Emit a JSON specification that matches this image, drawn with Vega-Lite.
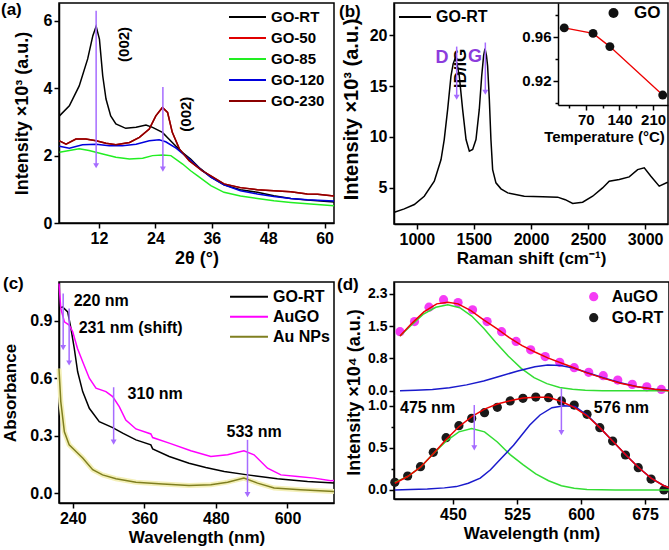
{
"$schema": "https://vega.github.io/schema/vega-lite/v6.json",
"padding": {"left": 0, "top": 0, "right": 0, "bottom": 0},
"background": "white",
"bounds": "flush",
"columns": 2,
"spacing": {"row": 58, "column": 60},
"resolve": {"scale": {"color": "independent", "stroke": "independent", "shape": "independent"}, "legend": {"color": "independent", "stroke": "independent", "shape": "independent"}},
"config": {
  "font": "Liberation Sans",
  "view": {"stroke": "#000", "strokeWidth": 1.5},
  "axis": {"grid": false, "domainColor": "#000", "domainWidth": 1.5, "tickColor": "#000", "tickWidth": 1.5, "tickSize": 5, "labelFont": "Liberation Sans", "labelFontSize": 16, "labelFontWeight": "bold", "labelColor": "#000", "labelPadding": 2, "titleFont": "Liberation Sans", "titleFontSize": 17, "titleFontWeight": "bold", "titleColor": "#000", "labelOverlap": false, "labelFlush": false, "titlePadding": 3},
  "legend": {"padding": 0, "labelFont": "Liberation Sans", "labelFontSize": 15, "labelFontWeight": "bold", "labelColor": "#000", "labelOffset": 5, "rowPadding": 5, "symbolStrokeWidth": 2},
  "text": {"font": "Liberation Sans", "fontWeight": "bold", "color": "#000"}
},
"concat": [
{
  "width": 275, "height": 220,
  "title": {"text": "(a)", "anchor": "start", "frame": "group", "orient": "top", "offset": -16, "dx": -58, "fontSize": 17, "fontWeight": "bold", "color": "#000", "font": "Liberation Sans"},
  "layer": [
    {"data": {"name": "a"}, "mark": {"type": "line", "strokeWidth": 1.5},
     "encoding": {
       "x": {"field": "x", "type": "quantitative", "scale": {"domain": [3.5, 62], "nice": false, "zero": false}, "axis": {"values": [12, 24, 36, 48, 60], "title": "2θ (°)", "titleFontSize": 18, "titlePadding": 3}},
       "y": {"field": "y", "type": "quantitative", "scale": {"domain": [0, 6.53], "nice": false, "zero": false}, "axis": {"values": [0, 1, 2, 3, 4, 5, 6], "labelExpr": "datum.value % 2 === 0 ? datum.label : ''", "tickSize": {"condition": {"test": "datum.value % 2 === 0", "value": 5}, "value": 3}, "title": "Intensity ×10³ (a.u.)", "titleFontSize": 18, "titlePadding": 12}},
       "color": {"field": "s", "type": "nominal", "scale": {"domain": ["GO-RT", "GO-50", "GO-85", "GO-120", "GO-230"], "range": ["#000000", "#e00000", "#22ee22", "#0000dd", "#8b0000"]}, "legend": {"title": null, "orient": "none", "legendX": 181, "legendY": 6.5, "symbolType": "M-3,0H3", "symbolSize": 152, "labelOffset": 16, "rowPadding": 5}}
     }},
    {"data": {"name": "a_arrows"}, "mark": {"type": "rule", "color": "#a66cff", "strokeWidth": 1.5},
     "encoding": {
       "x": {"field": "x", "type": "quantitative", "scale": {"domain": [3.5, 62], "nice": false, "zero": false}},
       "y": {"field": "y1", "type": "quantitative", "scale": {"domain": [0, 6.53], "nice": false, "zero": false}},
       "y2": {"field": "y2"}
     }},
    {"data": {"name": "a_arrows"}, "mark": {"type": "point", "shape": "triangle-down", "filled": true, "size": 35, "color": "#a66cff", "opacity": 1},
     "encoding": {
       "x": {"field": "x", "type": "quantitative", "scale": {"domain": [3.5, 62], "nice": false, "zero": false}},
       "y": {"field": "y2", "type": "quantitative", "scale": {"domain": [0, 6.53], "nice": false, "zero": false}}
     }},
    {"data": {"name": "a_text"}, "mark": {"type": "text", "angle": 270, "fontSize": 15, "fontWeight": "bold", "align": "center", "baseline": "middle"},
     "encoding": {
       "x": {"field": "x", "type": "quantitative", "scale": {"domain": [3.5, 62], "nice": false, "zero": false}},
       "y": {"field": "y", "type": "quantitative", "scale": {"domain": [0, 6.53], "nice": false, "zero": false}},
       "text": {"field": "t"}
     }}
  ]
},
{
  "width": 274, "height": 221,
  "title": {"text": "(b)", "anchor": "start", "frame": "group", "orient": "top", "offset": -18, "dx": -55, "fontSize": 17, "fontWeight": "bold", "color": "#000", "font": "Liberation Sans"},
  "layer": [
    {"layer": [
      {"data": {"name": "b"}, "mark": {"type": "line", "strokeWidth": 1.5},
       "encoding": {
         "x": {"field": "x", "type": "quantitative", "scale": {"domain": [800, 3200], "nice": false, "zero": false}, "axis": {"orient": "bottom", "values": [1000, 1250, 1500, 1750, 2000, 2250, 2500, 2750, 3000], "format": "d", "labelExpr": "datum.value % 500 === 0 ? datum.label : ''", "tickSize": {"condition": {"test": "datum.value % 500 === 0", "value": 5}, "value": 3}, "title": "Raman shift (cm⁻¹)", "titlePadding": 3}},
         "y": {"field": "y", "type": "quantitative", "scale": {"domain": [1.4, 23.2], "nice": false, "zero": false}, "axis": {"orient": "left", "values": [5, 10, 15, 20], "title": "Intensity ×10³ (a.u.)", "titleFontSize": 20, "titlePadding": 8, "titleY": 106}},
         "color": {"field": "s", "type": "nominal", "scale": {"domain": ["GO-RT"], "range": ["#000000"]}, "legend": {"title": null, "orient": "none", "legendX": 13, "legendY": 6, "symbolType": "M-3,0H3", "symbolSize": 114, "labelOffset": 13, "labelFontSize": 16}}
       }},
      {"data": {"name": "b_arrows"}, "mark": {"type": "rule", "color": "#a66cff", "strokeWidth": 1.5},
       "encoding": {
         "x": {"field": "x", "type": "quantitative", "scale": {"domain": [800, 3200], "nice": false, "zero": false}},
         "y": {"field": "y1", "type": "quantitative", "scale": {"domain": [1.4, 23.2], "nice": false, "zero": false}},
         "y2": {"field": "y2"}
       }},
      {"data": {"name": "b_arrows"}, "mark": {"type": "point", "shape": "triangle-down", "filled": true, "size": 35, "color": "#a66cff", "opacity": 1},
       "encoding": {
         "x": {"field": "x", "type": "quantitative", "scale": {"domain": [800, 3200], "nice": false, "zero": false}},
         "y": {"field": "y2", "type": "quantitative", "scale": {"domain": [1.4, 23.2], "nice": false, "zero": false}}
       }},
      {"data": {"name": "b_text"}, "mark": {"type": "text", "fontSize": 18, "fontWeight": "bold", "color": "#8c3cdc", "align": "center", "baseline": "middle"},
       "encoding": {
         "x": {"field": "x", "type": "quantitative", "scale": {"domain": [800, 3200], "nice": false, "zero": false}},
         "y": {"field": "y", "type": "quantitative", "scale": {"domain": [1.4, 23.2], "nice": false, "zero": false}},
         "text": {"field": "t"}
       }}
    ]},
    {"layer": [
      {"data": {"name": "b_inset"}, "mark": {"type": "line", "color": "#ee0000", "strokeWidth": 1.3},
       "encoding": {
         "x": {"field": "t", "type": "quantitative", "scale": {"domain": [12, 241], "range": [164, 274], "nice": false, "zero": false}, "axis": {"orient": "bottom", "offset": -119, "values": [35, 70, 105, 140, 175, 210], "labelExpr": "datum.value % 70 === 0 ? datum.label : ''", "tickSize": {"condition": {"test": "datum.value % 70 === 0", "value": 5}, "value": 3}, "title": "Temperature (°C)", "labelFontSize": 15, "titleFontSize": 15, "titleX": 210, "titlePadding": 2}},
         "y": {"field": "r", "type": "quantitative", "scale": {"domain": [0.898, 0.9906], "range": [102, 0], "nice": false, "zero": false}, "axis": {"orient": "left", "offset": -164, "values": [0.9, 0.92, 0.94, 0.96, 0.98], "format": ".2f", "labelExpr": "round(datum.value * 100) % 4 === 0 ? datum.label : ''", "tickSize": {"condition": {"test": "round(datum.value * 100) % 4 === 0", "value": 5}, "value": 3}, "title": "ID/IG", "titleFontSize": 17, "labelFontSize": 15, "titlePadding": 52, "titleY": 65}}
       }},
      {"data": {"name": "b_inset"}, "mark": {"type": "point", "filled": true, "size": 80, "color": "#111111", "opacity": 1},
       "encoding": {
         "x": {"field": "t", "type": "quantitative", "scale": {"domain": [12, 241], "range": [164, 274], "nice": false, "zero": false}},
         "y": {"field": "r", "type": "quantitative", "scale": {"domain": [0.898, 0.9906], "range": [102, 0], "nice": false, "zero": false}},
         "shape": {"field": "s", "type": "nominal", "scale": {"domain": ["GO"], "range": ["circle"]}, "legend": {"title": null, "orient": "none", "legendX": 211, "legendY": 1.5, "labelFontSize": 17, "labelOffset": 12, "encode": {"symbols": {"update": {"shape": {"value": "M-3,0H-0.85M0.85,0H3M-0.85,0A0.85,0.85,0,1,1,0.85,0A0.85,0.85,0,1,1,-0.85,0Z"}, "fill": {"value": "#111111"}, "stroke": {"value": "#ee0000"}, "strokeWidth": {"value": 1.5}, "size": {"value": 107}}}}}}
       }}
    ]}
  ],
  "resolve": {"scale": {"x": "independent", "y": "independent"}, "axis": {"x": "independent", "y": "independent"}}
},
{
  "width": 275, "height": 221,
  "title": {"text": "(c)", "anchor": "start", "frame": "group", "orient": "top", "offset": -12, "dx": -56, "fontSize": 17, "fontWeight": "bold", "color": "#000", "font": "Liberation Sans"},
  "layer": [
    {"data": {"name": "c"}, "transform": [{"filter": {"field": "s", "equal": "Au NPs"}}], "mark": {"type": "line", "strokeWidth": 5, "color": "#f4f0b8"},
     "encoding": {
       "x": {"field": "x", "type": "quantitative", "scale": {"domain": [217, 678], "nice": false, "zero": false}},
       "y": {"field": "y", "type": "quantitative", "scale": {"domain": [-0.052, 1.103], "nice": false, "zero": false}}
     }},
    {"data": {"name": "c"}, "mark": {"type": "line", "strokeWidth": 1.5},
     "encoding": {
       "x": {"field": "x", "type": "quantitative", "scale": {"domain": [217, 678], "nice": false, "zero": false}, "axis": {"values": [240, 300, 360, 420, 480, 540, 600, 660], "labelExpr": "datum.value % 120 === 0 ? datum.label : ''", "tickSize": {"condition": {"test": "datum.value % 120 === 0", "value": 5}, "value": 3}, "title": "Wavelength (nm)", "titlePadding": 3}},
       "y": {"field": "y", "type": "quantitative", "scale": {"domain": [-0.052, 1.103], "nice": false, "zero": false}, "axis": {"values": [0, 0.15, 0.3, 0.45, 0.6, 0.75, 0.9, 1.05], "format": ".1f", "labelExpr": "round(datum.value * 100) % 30 === 0 ? datum.label : ''", "tickSize": {"condition": {"test": "round(datum.value * 100) % 30 === 0", "value": 5}, "value": 3}, "title": "Absorbance", "titlePadding": 10}},
       "color": {"field": "s", "type": "nominal", "scale": {"domain": ["GO-RT", "AuGO", "Au NPs"], "range": ["#000000", "#ff00ff", "#7f7f20"]}, "legend": {"title": null, "orient": "none", "legendX": 182, "legendY": 6.7, "symbolType": "M-3,0H3", "symbolSize": 160, "labelOffset": 16, "labelFontSize": 16, "rowPadding": 4}}
     }},
    {"data": {"name": "c_arrows"}, "mark": {"type": "rule", "color": "#a66cff", "strokeWidth": 1.5},
     "encoding": {
       "x": {"field": "x", "type": "quantitative", "scale": {"domain": [217, 678], "nice": false, "zero": false}},
       "y": {"field": "y1", "type": "quantitative", "scale": {"domain": [-0.052, 1.103], "nice": false, "zero": false}},
       "y2": {"field": "y2"}
     }},
    {"data": {"name": "c_arrows"}, "mark": {"type": "point", "shape": "triangle-down", "filled": true, "size": 35, "color": "#a66cff", "opacity": 1},
     "encoding": {
       "x": {"field": "x", "type": "quantitative", "scale": {"domain": [217, 678], "nice": false, "zero": false}},
       "y": {"field": "y2", "type": "quantitative", "scale": {"domain": [-0.052, 1.103], "nice": false, "zero": false}}
     }},
    {"data": {"name": "c_text_left"}, "mark": {"type": "text", "fontSize": 16, "fontWeight": "bold", "align": "left", "baseline": "middle"},
     "encoding": {
       "x": {"field": "x", "type": "quantitative", "scale": {"domain": [217, 678], "nice": false, "zero": false}},
       "y": {"field": "y", "type": "quantitative", "scale": {"domain": [-0.052, 1.103], "nice": false, "zero": false}},
       "text": {"field": "t"}
     }},
    {"data": {"name": "c_text_mid"}, "mark": {"type": "text", "fontSize": 16, "fontWeight": "bold", "align": "center", "baseline": "middle"},
     "encoding": {
       "x": {"field": "x", "type": "quantitative", "scale": {"domain": [217, 678], "nice": false, "zero": false}},
       "y": {"field": "y", "type": "quantitative", "scale": {"domain": [-0.052, 1.103], "nice": false, "zero": false}},
       "text": {"field": "t"}
     }}
  ]
},
{
  "width": 275, "height": 217,
  "title": {"text": "(d)", "anchor": "start", "frame": "group", "orient": "top", "offset": -11.5, "dx": -57, "fontSize": 17, "fontWeight": "bold", "color": "#000", "font": "Liberation Sans"},
  "layer": [
    {"layer": [
      {"data": {"name": "d_top_pts"}, "mark": {"type": "circle", "size": 85, "opacity": 1},
       "encoding": {
         "x": {"field": "x", "type": "quantitative", "scale": {"domain": [381, 703], "nice": false, "zero": false}},
         "y": {"field": "y", "type": "quantitative", "scale": {"domain": [-0.1, 2.578], "range": [113, 0], "nice": false, "zero": false}, "axis": {"orient": "left", "values": [0, 0.3833, 0.7667, 1.15, 1.5333, 1.9167, 2.3], "format": ".1f", "labelExpr": "abs(datum.value * 3 / 2.3 - round(datum.value * 3 / 2.3)) < 0.01 ? datum.label : ''", "tickSize": {"condition": {"test": "abs(datum.value * 3 / 2.3 - round(datum.value * 3 / 2.3)) < 0.01", "value": 5}, "value": 3}, "labelFontSize": 14, "title": null}},
         "color": {"field": "s", "type": "nominal", "scale": {"domain": ["AuGO", "GO-RT"], "range": ["#f53cf5", "#1a1a1a"]}, "legend": {"title": null, "orient": "none", "legendX": 191.7, "legendY": 6.7, "symbolSize": 85, "labelFontSize": 16, "labelOffset": 10, "rowPadding": 5}}
       }},
      {"data": {"name": "d_top_lines"}, "mark": {"type": "line", "strokeWidth": 1.5},
       "encoding": {
         "x": {"field": "x", "type": "quantitative", "scale": {"domain": [381, 703], "nice": false, "zero": false}},
         "y": {"field": "y", "type": "quantitative", "scale": {"domain": [-0.1, 2.578], "range": [113, 0], "nice": false, "zero": false}},
         "stroke": {"field": "c", "type": "nominal", "scale": {"domain": ["g", "b", "r"], "range": ["#33dd33", "#1a1acc", "#ee0000"]}, "legend": null}
       }}
    ]},
    {"layer": [
      {"data": {"name": "d_bot_pts"}, "mark": {"type": "circle", "size": 85, "opacity": 1},
       "encoding": {
         "x": {"field": "x", "type": "quantitative", "scale": {"domain": [381, 703], "nice": false, "zero": false}},
         "y": {"field": "y", "type": "quantitative", "scale": {"domain": [-0.107, 1.127], "range": [217, 113], "nice": false, "zero": false}, "axis": {"orient": "left", "values": [0, 0.25, 0.5, 0.75, 1], "format": ".1f", "labelExpr": "round(datum.value * 100) % 50 === 0 ? datum.label : ''", "tickSize": {"condition": {"test": "round(datum.value * 100) % 50 === 0", "value": 5}, "value": 3}, "labelFontSize": 14, "title": "Intensity ×10⁴ (a.u.)", "titleFontSize": 18, "titlePadding": 4, "titleY": 110}},
         "color": {"field": "s", "type": "nominal", "scale": {"domain": ["AuGO", "GO-RT"], "range": ["#f53cf5", "#1a1a1a"]}}
       }},
      {"data": {"name": "d_bot_lines"}, "mark": {"type": "line", "strokeWidth": 1.5},
       "encoding": {
         "x": {"field": "x", "type": "quantitative", "scale": {"domain": [381, 703], "nice": false, "zero": false}, "axis": {"values": [450, 525, 600, 675], "title": "Wavelength (nm)", "titlePadding": 3}},
         "y": {"field": "y", "type": "quantitative", "scale": {"domain": [-0.107, 1.127], "range": [217, 113], "nice": false, "zero": false}},
         "stroke": {"field": "c", "type": "nominal", "scale": {"domain": ["g", "b", "r"], "range": ["#33dd33", "#1a1acc", "#ee0000"]}, "legend": null}
       }},
      {"data": {"name": "d_arrows"}, "mark": {"type": "rule", "color": "#a66cff", "strokeWidth": 1.5},
       "encoding": {
         "x": {"field": "x", "type": "quantitative", "scale": {"domain": [381, 703], "nice": false, "zero": false}},
         "y": {"field": "y1", "type": "quantitative", "scale": {"domain": [-0.107, 1.127], "range": [217, 113], "nice": false, "zero": false}},
         "y2": {"field": "y2"}
       }},
      {"data": {"name": "d_arrows"}, "mark": {"type": "point", "shape": "triangle-down", "filled": true, "size": 35, "color": "#a66cff", "opacity": 1},
       "encoding": {
         "x": {"field": "x", "type": "quantitative", "scale": {"domain": [381, 703], "nice": false, "zero": false}},
         "y": {"field": "y2", "type": "quantitative", "scale": {"domain": [-0.107, 1.127], "range": [217, 113], "nice": false, "zero": false}}
       }},
      {"data": {"name": "d_text"}, "mark": {"type": "text", "fontSize": 16, "fontWeight": "bold", "align": "left", "baseline": "middle"},
       "encoding": {
         "x": {"field": "x", "type": "quantitative", "scale": {"domain": [381, 703], "nice": false, "zero": false}},
         "y": {"field": "y", "type": "quantitative", "scale": {"domain": [-0.107, 1.127], "range": [217, 113], "nice": false, "zero": false}},
         "text": {"field": "t"}
       }}
    ]}
  ],
  "resolve": {"scale": {"y": "independent"}, "axis": {"y": "independent"}}
}
],
"datasets": {
"a": [
{"s":"GO-50","x":3.6,"y":2.44},{"s":"GO-50","x":5.0,"y":2.34},{"s":"GO-50","x":7.1,"y":2.49},{"s":"GO-50","x":9.2,"y":2.49},{"s":"GO-50","x":11.4,"y":2.44},{"s":"GO-50","x":13.5,"y":2.37},{"s":"GO-50","x":15.6,"y":2.32},{"s":"GO-50","x":18.5,"y":2.39},{"s":"GO-50","x":20.6,"y":2.54},{"s":"GO-50","x":22.7,"y":2.79},{"s":"GO-50","x":24.1,"y":3.18},{"s":"GO-50","x":25.5,"y":3.43},{"s":"GO-50","x":26.6,"y":3.28},{"s":"GO-50","x":27.6,"y":2.69},{"s":"GO-50","x":29.1,"y":2.2},{"s":"GO-50","x":31.2,"y":1.85},{"s":"GO-50","x":34,"y":1.55},{"s":"GO-50","x":35.8,"y":1.4},{"s":"GO-50","x":38.6,"y":1.16},{"s":"GO-50","x":42.1,"y":1.05},{"s":"GO-50","x":45.7,"y":0.99},{"s":"GO-50","x":49.2,"y":0.96},{"s":"GO-50","x":52.8,"y":0.93},{"s":"GO-50","x":56.3,"y":0.86},{"s":"GO-50","x":58.5,"y":0.85},{"s":"GO-50","x":62,"y":0.8},
{"s":"GO-85","x":3.6,"y":2.1},{"s":"GO-85","x":5.7,"y":2.15},{"s":"GO-85","x":7.8,"y":2.2},{"s":"GO-85","x":9.9,"y":2.15},{"s":"GO-85","x":12.8,"y":2.05},{"s":"GO-85","x":15.6,"y":1.95},{"s":"GO-85","x":18.5,"y":1.9},{"s":"GO-85","x":21.3,"y":1.92},{"s":"GO-85","x":23.4,"y":2.0},{"s":"GO-85","x":25.5,"y":2.02},{"s":"GO-85","x":27.3,"y":2.0},{"s":"GO-85","x":29.8,"y":1.75},{"s":"GO-85","x":31.5,"y":1.55},{"s":"GO-85","x":33,"y":1.4},{"s":"GO-85","x":35.8,"y":1.11},{"s":"GO-85","x":38.6,"y":0.91},{"s":"GO-85","x":42.1,"y":0.8},{"s":"GO-85","x":45.7,"y":0.73},{"s":"GO-85","x":49.2,"y":0.66},{"s":"GO-85","x":52.8,"y":0.61},{"s":"GO-85","x":56.3,"y":0.57},{"s":"GO-85","x":62,"y":0.51},
{"s":"GO-RT","x":3.6,"y":3.18},{"s":"GO-RT","x":5.7,"y":3.48},{"s":"GO-RT","x":7.8,"y":4.07},{"s":"GO-RT","x":9.6,"y":4.87},{"s":"GO-RT","x":10.7,"y":5.56},{"s":"GO-RT","x":11.4,"y":5.84},{"s":"GO-RT","x":12.1,"y":5.46},{"s":"GO-RT","x":12.8,"y":4.37},{"s":"GO-RT","x":13.5,"y":3.68},{"s":"GO-RT","x":14.5,"y":3.18},{"s":"GO-RT","x":15.6,"y":2.94},{"s":"GO-RT","x":17.7,"y":2.81},{"s":"GO-RT","x":19.9,"y":2.84},{"s":"GO-RT","x":22.0,"y":2.91},{"s":"GO-RT","x":23.4,"y":2.84},{"s":"GO-RT","x":25.5,"y":2.69},{"s":"GO-RT","x":27.6,"y":2.39},{"s":"GO-RT","x":29.5,"y":2.12},{"s":"GO-RT","x":31.5,"y":1.9},{"s":"GO-RT","x":33.5,"y":1.62},{"s":"GO-RT","x":35.8,"y":1.36},{"s":"GO-RT","x":38.6,"y":1.13},{"s":"GO-RT","x":42.1,"y":0.99},{"s":"GO-RT","x":45.7,"y":0.91},{"s":"GO-RT","x":49.2,"y":0.81},{"s":"GO-RT","x":52.8,"y":0.73},{"s":"GO-RT","x":56.3,"y":0.68},{"s":"GO-RT","x":62,"y":0.62},
{"s":"GO-120","x":3.6,"y":2.28},{"s":"GO-120","x":5.7,"y":2.22},{"s":"GO-120","x":8.5,"y":2.32},{"s":"GO-120","x":11.4,"y":2.34},{"s":"GO-120","x":14.2,"y":2.29},{"s":"GO-120","x":17.0,"y":2.29},{"s":"GO-120","x":19.9,"y":2.34},{"s":"GO-120","x":22.7,"y":2.44},{"s":"GO-120","x":24.8,"y":2.47},{"s":"GO-120","x":26.2,"y":2.41},{"s":"GO-120","x":28.4,"y":2.22},{"s":"GO-120","x":31.2,"y":1.9},{"s":"GO-120","x":34,"y":1.55},{"s":"GO-120","x":35.8,"y":1.36},{"s":"GO-120","x":38.6,"y":1.13},{"s":"GO-120","x":42.1,"y":0.96},{"s":"GO-120","x":45.7,"y":0.86},{"s":"GO-120","x":49.2,"y":0.79},{"s":"GO-120","x":52.8,"y":0.73},{"s":"GO-120","x":56.3,"y":0.69},{"s":"GO-120","x":62,"y":0.65},
{"s":"GO-230","x":3.6,"y":2.44},{"s":"GO-230","x":5.0,"y":2.34},{"s":"GO-230","x":7.1,"y":2.49},{"s":"GO-230","x":9.2,"y":2.49},{"s":"GO-230","x":11.4,"y":2.44},{"s":"GO-230","x":13.5,"y":2.37},{"s":"GO-230","x":15.6,"y":2.32},{"s":"GO-230","x":18.5,"y":2.39},{"s":"GO-230","x":20.6,"y":2.54},{"s":"GO-230","x":22.7,"y":2.79},{"s":"GO-230","x":24.1,"y":3.18},{"s":"GO-230","x":25.5,"y":3.43},{"s":"GO-230","x":26.6,"y":3.28},{"s":"GO-230","x":27.6,"y":2.69},{"s":"GO-230","x":29.1,"y":2.2},{"s":"GO-230","x":31.2,"y":1.85},{"s":"GO-230","x":34,"y":1.55},{"s":"GO-230","x":35.8,"y":1.4},{"s":"GO-230","x":38.6,"y":1.16},{"s":"GO-230","x":42.1,"y":1.05},{"s":"GO-230","x":45.7,"y":0.99},{"s":"GO-230","x":49.2,"y":0.96},{"s":"GO-230","x":52.8,"y":0.93},{"s":"GO-230","x":56.3,"y":0.86},{"s":"GO-230","x":58.5,"y":0.85},{"s":"GO-230","x":62,"y":0.8}
],
"a_arrows": [{"x":11.4,"y1":6.3,"y2":1.7},{"x":25.6,"y1":4.04,"y2":1.6}],
"a_text": [{"x":17.3,"y":5.3,"t":"(002)"},{"x":30.5,"y":3.23,"t":"(002)"}],
"b": [
{"s":"GO-RT","x":803,"y":2.56},{"s":"GO-RT","x":890,"y":2.89},{"s":"GO-RT","x":978,"y":3.32},{"s":"GO-RT","x":1065,"y":4.14},{"s":"GO-RT","x":1153,"y":5.62},{"s":"GO-RT","x":1212,"y":7.76},{"s":"GO-RT","x":1240,"y":9.73},{"s":"GO-RT","x":1270,"y":12.7},{"s":"GO-RT","x":1299,"y":15.98},{"s":"GO-RT","x":1318,"y":17.2},{"s":"GO-RT","x":1334,"y":17.7},{"s":"GO-RT","x":1350,"y":17.3},{"s":"GO-RT","x":1372,"y":15.98},{"s":"GO-RT","x":1401,"y":12.7},{"s":"GO-RT","x":1431,"y":9.73},{"s":"GO-RT","x":1460,"y":8.58},{"s":"GO-RT","x":1489,"y":8.75},{"s":"GO-RT","x":1518,"y":9.73},{"s":"GO-RT","x":1547,"y":12.7},{"s":"GO-RT","x":1568,"y":15.98},{"s":"GO-RT","x":1585,"y":18.0},{"s":"GO-RT","x":1597,"y":18.69},{"s":"GO-RT","x":1610,"y":18.0},{"s":"GO-RT","x":1620,"y":16.97},{"s":"GO-RT","x":1635,"y":13.7},{"s":"GO-RT","x":1649,"y":9.73},{"s":"GO-RT","x":1664,"y":6.77},{"s":"GO-RT","x":1693,"y":5.46},{"s":"GO-RT","x":1737,"y":4.87},{"s":"GO-RT","x":1796,"y":4.47},{"s":"GO-RT","x":1941,"y":4.14},{"s":"GO-RT","x":2102,"y":4.08},{"s":"GO-RT","x":2233,"y":4.05},{"s":"GO-RT","x":2300,"y":3.8},{"s":"GO-RT","x":2365,"y":3.42},{"s":"GO-RT","x":2452,"y":3.55},{"s":"GO-RT","x":2540,"y":4.14},{"s":"GO-RT","x":2627,"y":4.96},{"s":"GO-RT","x":2685,"y":5.62},{"s":"GO-RT","x":2773,"y":5.79},{"s":"GO-RT","x":2860,"y":6.05},{"s":"GO-RT","x":2934,"y":6.77},{"s":"GO-RT","x":2992,"y":6.94},{"s":"GO-RT","x":3050,"y":6.11},{"s":"GO-RT","x":3123,"y":5.13},{"s":"GO-RT","x":3197,"y":5.52}
],
"b_arrows": [{"x":1349,"y1":18.9,"y2":13.9},{"x":1600,"y1":19.3,"y2":14.4}],
"b_text": [{"x":1220,"y":17.8,"t":"D"},{"x":1509,"y":17.9,"t":"G"}],
"b_inset": [{"s":"GO","t":25,"r":0.968},{"s":"GO","t":85,"r":0.963},{"s":"GO","t":120,"r":0.951},{"s":"GO","t":230,"r":0.907}],
"c": [
{"s":"Au NPs","x":217,"y":0.65},{"s":"Au NPs","x":220,"y":0.478},{"s":"Au NPs","x":226,"y":0.32},{"s":"Au NPs","x":234,"y":0.252},{"s":"Au NPs","x":245.5,"y":0.217},{"s":"Au NPs","x":256.7,"y":0.183},{"s":"Au NPs","x":273.5,"y":0.122},{"s":"Au NPs","x":290,"y":0.095},{"s":"Au NPs","x":312.5,"y":0.075},{"s":"Au NPs","x":346,"y":0.057},{"s":"Au NPs","x":390.7,"y":0.047},{"s":"Au NPs","x":435,"y":0.04},{"s":"Au NPs","x":471.5,"y":0.043},{"s":"Au NPs","x":499.6,"y":0.057},{"s":"Au NPs","x":527,"y":0.078},{"s":"Au NPs","x":549.8,"y":0.052},{"s":"Au NPs","x":577.6,"y":0.026},{"s":"Au NPs","x":622,"y":0.017},{"s":"Au NPs","x":678,"y":0.008},
{"s":"GO-RT","x":217.5,"y":0.965},{"s":"GO-RT","x":223,"y":0.973},{"s":"GO-RT","x":231.6,"y":0.947},{"s":"GO-RT","x":237,"y":0.86},{"s":"GO-RT","x":242.6,"y":0.756},{"s":"GO-RT","x":248.3,"y":0.634},{"s":"GO-RT","x":256.7,"y":0.53},{"s":"GO-RT","x":267.8,"y":0.443},{"s":"GO-RT","x":284.5,"y":0.373},{"s":"GO-RT","x":307,"y":0.342},{"s":"GO-RT","x":323.7,"y":0.313},{"s":"GO-RT","x":346,"y":0.278},{"s":"GO-RT","x":371,"y":0.252},{"s":"GO-RT","x":374,"y":0.231},{"s":"GO-RT","x":401.8,"y":0.191},{"s":"GO-RT","x":435,"y":0.156},{"s":"GO-RT","x":463,"y":0.134},{"s":"GO-RT","x":494,"y":0.113},{"s":"GO-RT","x":533,"y":0.095},{"s":"GO-RT","x":583,"y":0.075},{"s":"GO-RT","x":633.6,"y":0.061},{"s":"GO-RT","x":678,"y":0.052},
{"s":"AuGO","x":217,"y":1.095},{"s":"AuGO","x":220,"y":0.965},{"s":"AuGO","x":226,"y":0.895},{"s":"AuGO","x":234,"y":0.878},{"s":"AuGO","x":240,"y":0.843},{"s":"AuGO","x":248,"y":0.756},{"s":"AuGO","x":256.7,"y":0.686},{"s":"AuGO","x":267.8,"y":0.6},{"s":"AuGO","x":279,"y":0.548},{"s":"AuGO","x":295.7,"y":0.53},{"s":"AuGO","x":307,"y":0.504},{"s":"AuGO","x":318,"y":0.452},{"s":"AuGO","x":329,"y":0.382},{"s":"AuGO","x":346,"y":0.335},{"s":"AuGO","x":371,"y":0.309},{"s":"AuGO","x":374,"y":0.29},{"s":"AuGO","x":401.8,"y":0.261},{"s":"AuGO","x":438,"y":0.221},{"s":"AuGO","x":471.5,"y":0.191},{"s":"AuGO","x":499.6,"y":0.2},{"s":"AuGO","x":527,"y":0.221},{"s":"AuGO","x":544,"y":0.2},{"s":"AuGO","x":566.6,"y":0.13},{"s":"AuGO","x":589,"y":0.095},{"s":"AuGO","x":617,"y":0.087},{"s":"AuGO","x":645,"y":0.078},{"s":"AuGO","x":672.6,"y":0.064},{"s":"AuGO","x":678,"y":0.065}
],
"c_arrows": [{"x":224,"y1":1.043,"y2":0.76},{"x":234,"y1":0.965,"y2":0.68},{"x":308.6,"y1":0.553,"y2":0.266},{"x":533,"y1":0.278,"y2":-0.008}],
"c_text_left": [{"x":241.6,"y":1.003,"t":"220 nm"},{"x":250,"y":0.86,"t":"231 nm (shift)"},{"x":332,"y":0.52,"t":"310 nm"}],
"c_text_mid": [{"x":544,"y":0.318,"t":"533 nm"}],
"d_top_pts": [
{"s":"AuGO","x":388,"y":1.4},{"s":"AuGO","x":405,"y":1.64},{"s":"AuGO","x":422,"y":1.98},{"s":"AuGO","x":439,"y":2.16},{"s":"AuGO","x":456,"y":2.09},{"s":"AuGO","x":473,"y":1.92},{"s":"AuGO","x":490,"y":1.64},{"s":"AuGO","x":507,"y":1.4},{"s":"AuGO","x":524,"y":1.17},{"s":"AuGO","x":541,"y":0.97},{"s":"AuGO","x":558,"y":0.81},{"s":"AuGO","x":575,"y":0.675},{"s":"AuGO","x":592,"y":0.547},{"s":"AuGO","x":609,"y":0.437},{"s":"AuGO","x":626,"y":0.357},{"s":"AuGO","x":643,"y":0.254},{"s":"AuGO","x":660,"y":0.152},{"s":"AuGO","x":677,"y":0.095},{"s":"AuGO","x":694,"y":0.033}
],
"d_top_lines": [
{"c":"g","x":388,"y":1.3},{"c":"g","x":400,"y":1.53},{"c":"g","x":415,"y":1.81},{"c":"g","x":430,"y":1.98},{"c":"g","x":444,"y":2.04},{"c":"g","x":458,"y":1.97},{"c":"g","x":472,"y":1.77},{"c":"g","x":486,"y":1.48},{"c":"g","x":500,"y":1.15},{"c":"g","x":515,"y":0.82},{"c":"g","x":530,"y":0.53},{"c":"g","x":545,"y":0.31},{"c":"g","x":560,"y":0.17},{"c":"g","x":575,"y":0.08},{"c":"g","x":590,"y":0.035},{"c":"g","x":605,"y":0.012},{"c":"g","x":625,"y":0.0},{"c":"g","x":665,"y":0.0},{"c":"g","x":703,"y":0.0},
{"c":"b","x":388,"y":0.0},{"c":"b","x":406,"y":0.01},{"c":"b","x":426,"y":0.03},{"c":"b","x":446,"y":0.07},{"c":"b","x":466,"y":0.14},{"c":"b","x":486,"y":0.23},{"c":"b","x":506,"y":0.35},{"c":"b","x":526,"y":0.47},{"c":"b","x":546,"y":0.57},{"c":"b","x":561,"y":0.61},{"c":"b","x":576,"y":0.6},{"c":"b","x":591,"y":0.54},{"c":"b","x":606,"y":0.44},{"c":"b","x":626,"y":0.31},{"c":"b","x":646,"y":0.19},{"c":"b","x":666,"y":0.095},{"c":"b","x":686,"y":0.035},{"c":"b","x":703,"y":0.01},
{"c":"r","x":388,"y":1.3},{"c":"r","x":401,"y":1.58},{"c":"r","x":416,"y":1.87},{"c":"r","x":431,"y":2.06},{"c":"r","x":444,"y":2.1},{"c":"r","x":456,"y":2.06},{"c":"r","x":471,"y":1.9},{"c":"r","x":486,"y":1.68},{"c":"r","x":501,"y":1.48},{"c":"r","x":516,"y":1.26},{"c":"r","x":531,"y":1.07},{"c":"r","x":546,"y":0.92},{"c":"r","x":561,"y":0.78},{"c":"r","x":576,"y":0.665},{"c":"r","x":591,"y":0.55},{"c":"r","x":606,"y":0.43},{"c":"r","x":626,"y":0.3},{"c":"r","x":646,"y":0.18},{"c":"r","x":666,"y":0.095},{"c":"r","x":686,"y":0.035},{"c":"r","x":703,"y":0.0}
],
"d_bot_pts": [
{"s":"GO-RT","x":382,"y":0.091},{"s":"GO-RT","x":397,"y":0.166},{"s":"GO-RT","x":412,"y":0.277},{"s":"GO-RT","x":427,"y":0.447},{"s":"GO-RT","x":442,"y":0.62},{"s":"GO-RT","x":457,"y":0.763},{"s":"GO-RT","x":472,"y":0.85},{"s":"GO-RT","x":487,"y":0.917},{"s":"GO-RT","x":502,"y":0.981},{"s":"GO-RT","x":517,"y":1.056},{"s":"GO-RT","x":532,"y":1.088},{"s":"GO-RT","x":547,"y":1.103},{"s":"GO-RT","x":562,"y":1.095},{"s":"GO-RT","x":577,"y":1.056},{"s":"GO-RT","x":592,"y":1.008},{"s":"GO-RT","x":607,"y":0.898},{"s":"GO-RT","x":622,"y":0.739},{"s":"GO-RT","x":637,"y":0.581},{"s":"GO-RT","x":652,"y":0.415},{"s":"GO-RT","x":667,"y":0.265},{"s":"GO-RT","x":682,"y":0.13},{"s":"GO-RT","x":697,"y":0.0}
],
"d_bot_lines": [
{"c":"g","x":382,"y":0.09},{"c":"g","x":397,"y":0.16},{"c":"g","x":412,"y":0.27},{"c":"g","x":427,"y":0.43},{"c":"g","x":442,"y":0.58},{"c":"g","x":457,"y":0.69},{"c":"g","x":472,"y":0.73},{"c":"g","x":487,"y":0.69},{"c":"g","x":502,"y":0.57},{"c":"g","x":517,"y":0.42},{"c":"g","x":532,"y":0.3},{"c":"g","x":547,"y":0.19},{"c":"g","x":562,"y":0.11},{"c":"g","x":577,"y":0.05},{"c":"g","x":592,"y":0.02},{"c":"g","x":607,"y":0.005},{"c":"g","x":640,"y":0.0},{"c":"g","x":703,"y":0.0},
{"c":"b","x":382,"y":0.0},{"c":"b","x":400,"y":0.005},{"c":"b","x":420,"y":0.012},{"c":"b","x":440,"y":0.025},{"c":"b","x":454,"y":0.04},{"c":"b","x":468,"y":0.08},{"c":"b","x":482,"y":0.14},{"c":"b","x":494,"y":0.24},{"c":"b","x":505,"y":0.36},{"c":"b","x":521,"y":0.53},{"c":"b","x":540,"y":0.77},{"c":"b","x":552,"y":0.89},{"c":"b","x":566,"y":0.976},{"c":"b","x":580,"y":1.0},{"c":"b","x":593,"y":0.99},{"c":"b","x":607,"y":0.89},{"c":"b","x":622,"y":0.74},{"c":"b","x":637,"y":0.58},{"c":"b","x":652,"y":0.42},{"c":"b","x":667,"y":0.27},{"c":"b","x":682,"y":0.14},{"c":"b","x":697,"y":0.05},{"c":"b","x":703,"y":0.03},
{"c":"r","x":382,"y":0.08},{"c":"r","x":397,"y":0.16},{"c":"r","x":412,"y":0.27},{"c":"r","x":427,"y":0.43},{"c":"r","x":442,"y":0.6},{"c":"r","x":457,"y":0.75},{"c":"r","x":472,"y":0.87},{"c":"r","x":487,"y":0.96},{"c":"r","x":502,"y":1.02},{"c":"r","x":517,"y":1.06},{"c":"r","x":532,"y":1.09},{"c":"r","x":547,"y":1.1},{"c":"r","x":562,"y":1.1},{"c":"r","x":577,"y":1.05},{"c":"r","x":592,"y":0.98},{"c":"r","x":607,"y":0.88},{"c":"r","x":622,"y":0.74},{"c":"r","x":637,"y":0.58},{"c":"r","x":652,"y":0.42},{"c":"r","x":667,"y":0.27},{"c":"r","x":682,"y":0.14},{"c":"r","x":697,"y":0.05},{"c":"r","x":703,"y":0.03}
],
"d_arrows": [{"x":475,"y1":1.008,"y2":0.5},{"x":577,"y1":1.206,"y2":0.68}],
"d_text": [{"x":388,"y":0.97,"t":"475 nm"},{"x":615,"y":0.976,"t":"576 nm"}]
}
}
